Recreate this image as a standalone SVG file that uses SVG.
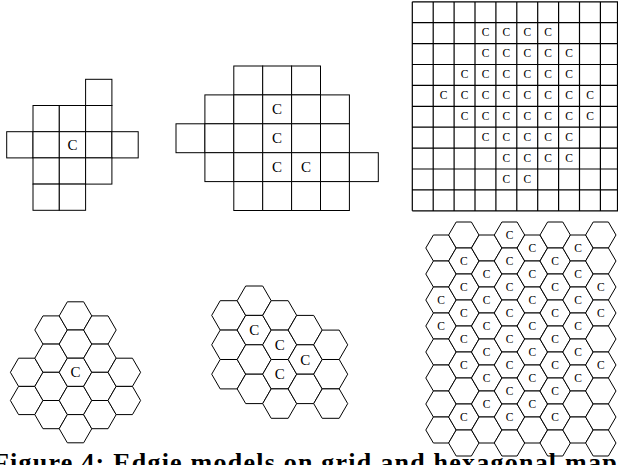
<svg xmlns="http://www.w3.org/2000/svg" xmlns:xlink="http://www.w3.org/1999/xlink" width="618" height="465" viewBox="0 0 618 465">
<style>
.c{fill:#fff;stroke:#000;stroke-width:1}
.ln{stroke:#000;stroke-width:1.2}
.t{font-family:"Liberation Serif","Times New Roman",serif;fill:#000;text-anchor:middle}
.t1{font-size:15px}
.t3{font-size:11.5px}
.cap{font-family:"Liberation Serif","Times New Roman",serif;font-weight:bold;font-size:26px;fill:#000}
</style>
<defs>
<rect id="s1" class="c" width="26.3" height="26.2"/>
<rect id="s2" class="c" width="28.9" height="28.9"/>
<polygon id="h1" class="c" points="-16.3,0 -8.15,-14.1 8.15,-14.1 16.3,0 8.15,14.1 -8.15,14.1"/>
<polygon id="h2" class="c" points="-17,0 -8.5,-14.7 8.5,-14.7 17,0 8.5,14.7 -8.5,14.7"/>
<polygon id="h3" class="c" points="-15.2,0 -7.6,-13 7.6,-13 15.2,0 7.6,13 -7.6,13"/>
</defs>
<rect width="618" height="465" fill="#fff"/>

<g id="grid1">
<use href="#s1" x="85.6" y="79.3"/>
<use href="#s1" x="33" y="105.5"/><use href="#s1" x="59.3" y="105.5"/><use href="#s1" x="85.6" y="105.5"/>
<use href="#s1" x="6.7" y="131.7"/><use href="#s1" x="33" y="131.7"/><use href="#s1" x="59.3" y="131.7"/><use href="#s1" x="85.6" y="131.7"/><use href="#s1" x="111.9" y="131.7"/>
<use href="#s1" x="33" y="157.9"/><use href="#s1" x="59.3" y="157.9"/><use href="#s1" x="85.6" y="157.9"/>
<use href="#s1" x="33" y="184.1"/><use href="#s1" x="59.3" y="184.1"/>
<text class="t t1" x="72.5" y="150">C</text>
</g>

<g id="grid2">
<use href="#s2" x="233.8" y="66"/><use href="#s2" x="262.7" y="66"/><use href="#s2" x="291.6" y="66"/>
<use href="#s2" x="204.9" y="94.9"/><use href="#s2" x="233.8" y="94.9"/><use href="#s2" x="262.7" y="94.9"/><use href="#s2" x="291.6" y="94.9"/><use href="#s2" x="320.5" y="94.9"/>
<use href="#s2" x="176" y="123.8"/><use href="#s2" x="204.9" y="123.8"/><use href="#s2" x="233.8" y="123.8"/><use href="#s2" x="262.7" y="123.8"/><use href="#s2" x="291.6" y="123.8"/><use href="#s2" x="320.5" y="123.8"/>
<use href="#s2" x="204.9" y="152.7"/><use href="#s2" x="233.8" y="152.7"/><use href="#s2" x="262.7" y="152.7"/><use href="#s2" x="291.6" y="152.7"/><use href="#s2" x="320.5" y="152.7"/><use href="#s2" x="349.4" y="152.7"/>
<use href="#s2" x="233.8" y="181.6"/><use href="#s2" x="262.7" y="181.6"/><use href="#s2" x="291.6" y="181.6"/><use href="#s2" x="320.5" y="181.6"/>
<text class="t t1" x="277.1" y="114.3">C</text>
<text class="t t1" x="277.1" y="143.2">C</text>
<text class="t t1" x="277.1" y="172.1">C</text>
<text class="t t1" x="306" y="172.1">C</text>
</g>

<g id="grid3">
<path class="ln" fill="none" d="M412.3,1.8V210.8M433.2,1.8V210.8M454.1,1.8V210.8M475,1.8V210.8M495.9,1.8V210.8M516.8,1.8V210.8M537.7,1.8V210.8M558.6,1.8V210.8M579.5,1.8V210.8M600.4,1.8V210.8M617.5,1.8V210.8
M412.3,1.8H618M412.3,22.7H618M412.3,43.6H618M412.3,64.5H618M412.3,85.4H618M412.3,106.3H618M412.3,127.2H618M412.3,148.1H618M412.3,169H618M412.3,189.9H618M412.3,210.8H618"/>
<g class="t t3">
<text x="485.5" y="36.2">C</text><text x="506.4" y="36.2">C</text><text x="527.3" y="36.2">C</text><text x="548.2" y="36.2">C</text>
<text x="485.5" y="57.1">C</text><text x="506.4" y="57.1">C</text><text x="527.3" y="57.1">C</text><text x="548.2" y="57.1">C</text><text x="569.1" y="57.1">C</text>
<text x="464.6" y="78">C</text><text x="485.5" y="78">C</text><text x="506.4" y="78">C</text><text x="527.3" y="78">C</text><text x="548.2" y="78">C</text><text x="569.1" y="78">C</text>
<text x="443.7" y="98.9">C</text><text x="464.6" y="98.9">C</text><text x="485.5" y="98.9">C</text><text x="506.4" y="98.9">C</text><text x="527.3" y="98.9">C</text><text x="548.2" y="98.9">C</text><text x="569.1" y="98.9">C</text><text x="590" y="98.9">C</text>
<text x="464.6" y="119.8">C</text><text x="485.5" y="119.8">C</text><text x="506.4" y="119.8">C</text><text x="527.3" y="119.8">C</text><text x="548.2" y="119.8">C</text><text x="569.1" y="119.8">C</text><text x="590" y="119.8">C</text>
<text x="485.5" y="140.7">C</text><text x="506.4" y="140.7">C</text><text x="527.3" y="140.7">C</text><text x="548.2" y="140.7">C</text><text x="569.1" y="140.7">C</text>
<text x="506.4" y="161.6">C</text><text x="527.3" y="161.6">C</text><text x="548.2" y="161.6">C</text><text x="569.1" y="161.6">C</text>
<text x="506.4" y="182.5">C</text><text x="527.3" y="182.5">C</text>
</g>
</g>

<g id="hex1">
<use href="#h1" x="26.7" y="372.3"/><use href="#h1" x="26.7" y="400.5"/>
<use href="#h1" x="51.1" y="330"/><use href="#h1" x="51.1" y="358.2"/><use href="#h1" x="51.1" y="386.4"/><use href="#h1" x="51.1" y="414.6"/>
<use href="#h1" x="75.5" y="315.9"/><use href="#h1" x="75.5" y="344.1"/><use href="#h1" x="75.5" y="372.3"/><use href="#h1" x="75.5" y="400.5"/><use href="#h1" x="75.5" y="428.7"/>
<use href="#h1" x="99.9" y="330"/><use href="#h1" x="99.9" y="358.2"/><use href="#h1" x="99.9" y="386.4"/><use href="#h1" x="99.9" y="414.6"/>
<use href="#h1" x="124.3" y="372.3"/><use href="#h1" x="124.3" y="400.5"/>
<text class="t t1" x="75.5" y="377.3">C</text>
</g>

<g id="hex2">
<use href="#h2" x="228.7" y="315.4"/><use href="#h2" x="228.7" y="344.8"/><use href="#h2" x="228.7" y="374.2"/>
<use href="#h2" x="254.2" y="300.7"/><use href="#h2" x="254.2" y="330.1"/><use href="#h2" x="254.2" y="359.5"/><use href="#h2" x="254.2" y="388.9"/>
<use href="#h2" x="279.7" y="315.4"/><use href="#h2" x="279.7" y="344.8"/><use href="#h2" x="279.7" y="374.2"/><use href="#h2" x="279.7" y="403.6"/>
<use href="#h2" x="305.2" y="330.1"/><use href="#h2" x="305.2" y="359.5"/><use href="#h2" x="305.2" y="388.9"/>
<use href="#h2" x="330.7" y="344.8"/><use href="#h2" x="330.7" y="374.2"/><use href="#h2" x="330.7" y="403.6"/>
<text class="t t1" x="254.2" y="335.1">C</text>
<text class="t t1" x="279.7" y="349.8">C</text>
<text class="t t1" x="305.2" y="364.5">C</text>
<text class="t t1" x="279.7" y="379.2">C</text>
</g>

<g id="hex3">
<use href="#h3" x="441" y="248"/><use href="#h3" x="441" y="274"/><use href="#h3" x="441" y="300"/><use href="#h3" x="441" y="326"/><use href="#h3" x="441" y="352"/><use href="#h3" x="441" y="378"/><use href="#h3" x="441" y="404"/><use href="#h3" x="441" y="430"/>
<use href="#h3" x="463.8" y="235"/><use href="#h3" x="463.8" y="261"/><use href="#h3" x="463.8" y="287"/><use href="#h3" x="463.8" y="313"/><use href="#h3" x="463.8" y="339"/><use href="#h3" x="463.8" y="365"/><use href="#h3" x="463.8" y="391"/><use href="#h3" x="463.8" y="417"/><use href="#h3" x="463.8" y="443"/>
<use href="#h3" x="486.7" y="248"/><use href="#h3" x="486.7" y="274"/><use href="#h3" x="486.7" y="300"/><use href="#h3" x="486.7" y="326"/><use href="#h3" x="486.7" y="352"/><use href="#h3" x="486.7" y="378"/><use href="#h3" x="486.7" y="404"/><use href="#h3" x="486.7" y="430"/>
<use href="#h3" x="509.5" y="235"/><use href="#h3" x="509.5" y="261"/><use href="#h3" x="509.5" y="287"/><use href="#h3" x="509.5" y="313"/><use href="#h3" x="509.5" y="339"/><use href="#h3" x="509.5" y="365"/><use href="#h3" x="509.5" y="391"/><use href="#h3" x="509.5" y="417"/><use href="#h3" x="509.5" y="443"/>
<use href="#h3" x="532.3" y="248"/><use href="#h3" x="532.3" y="274"/><use href="#h3" x="532.3" y="300"/><use href="#h3" x="532.3" y="326"/><use href="#h3" x="532.3" y="352"/><use href="#h3" x="532.3" y="378"/><use href="#h3" x="532.3" y="404"/><use href="#h3" x="532.3" y="430"/>
<use href="#h3" x="555.2" y="235"/><use href="#h3" x="555.2" y="261"/><use href="#h3" x="555.2" y="287"/><use href="#h3" x="555.2" y="313"/><use href="#h3" x="555.2" y="339"/><use href="#h3" x="555.2" y="365"/><use href="#h3" x="555.2" y="391"/><use href="#h3" x="555.2" y="417"/><use href="#h3" x="555.2" y="443"/>
<use href="#h3" x="578" y="248"/><use href="#h3" x="578" y="274"/><use href="#h3" x="578" y="300"/><use href="#h3" x="578" y="326"/><use href="#h3" x="578" y="352"/><use href="#h3" x="578" y="378"/><use href="#h3" x="578" y="404"/><use href="#h3" x="578" y="430"/>
<use href="#h3" x="600.8" y="235"/><use href="#h3" x="600.8" y="261"/><use href="#h3" x="600.8" y="287"/><use href="#h3" x="600.8" y="313"/><use href="#h3" x="600.8" y="339"/><use href="#h3" x="600.8" y="365"/><use href="#h3" x="600.8" y="391"/><use href="#h3" x="600.8" y="417"/><use href="#h3" x="600.8" y="443"/>
<g class="t t3">
<text x="441" y="304">C</text><text x="441" y="330">C</text>
<text x="463.8" y="265">C</text><text x="463.8" y="291">C</text><text x="463.8" y="317">C</text><text x="463.8" y="343">C</text><text x="463.8" y="369">C</text><text x="463.8" y="421">C</text>
<text x="486.7" y="278">C</text><text x="486.7" y="304">C</text><text x="486.7" y="330">C</text><text x="486.7" y="356">C</text><text x="486.7" y="382">C</text><text x="486.7" y="408">C</text>
<text x="509.5" y="239">C</text><text x="509.5" y="265">C</text><text x="509.5" y="291">C</text><text x="509.5" y="317">C</text><text x="509.5" y="343">C</text><text x="509.5" y="369">C</text><text x="509.5" y="395">C</text><text x="509.5" y="421">C</text>
<text x="532.3" y="252">C</text><text x="532.3" y="278">C</text><text x="532.3" y="304">C</text><text x="532.3" y="330">C</text><text x="532.3" y="356">C</text><text x="532.3" y="382">C</text><text x="532.3" y="408">C</text>
<text x="555.2" y="265">C</text><text x="555.2" y="291">C</text><text x="555.2" y="317">C</text><text x="555.2" y="343">C</text><text x="555.2" y="369">C</text><text x="555.2" y="395">C</text><text x="555.2" y="421">C</text>
<text x="578" y="252">C</text><text x="578" y="278">C</text><text x="578" y="304">C</text><text x="578" y="330">C</text><text x="578" y="356">C</text><text x="578" y="382">C</text>
<text x="600.8" y="291">C</text><text x="600.8" y="317">C</text><text x="600.8" y="369">C</text>
</g>
</g>

<text id="caption" class="cap" x="-7" y="471" textLength="635" lengthAdjust="spacing">Figure 4: Edgie models on grid and hexagonal maps</text>
</svg>
